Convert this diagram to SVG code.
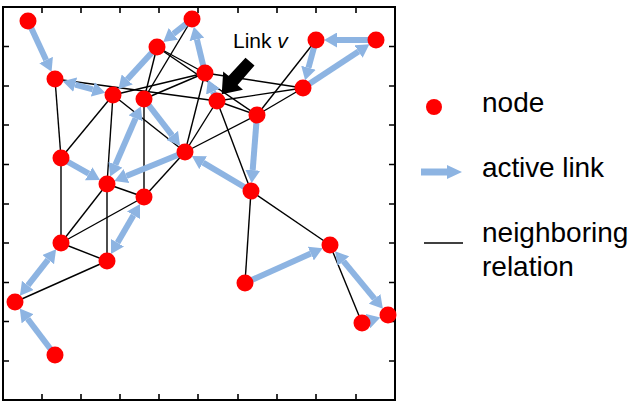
<svg xmlns="http://www.w3.org/2000/svg" width="634" height="416" viewBox="0 0 634 416">
<style>
.nb{stroke:#000;stroke-width:1.4;fill:none}
.al{stroke:#8DB4E2;stroke-width:6;fill:none;marker-end:url(#ah)}
.al2{stroke:#8DB4E2;stroke-width:6;fill:none;marker-end:url(#ah);marker-start:url(#ah)}
.nd{fill:#FF0000}
.tk{stroke:#000;stroke-width:1.6}
.lg{font-family:"Liberation Sans",Arial,sans-serif;font-size:28px;fill:#000}
</style>
<defs>
<marker id="ah" markerUnits="userSpaceOnUse" markerWidth="13" markerHeight="15" viewBox="0 0 13 15" refX="0" refY="7.5" orient="auto-start-reverse">
<path d="M0,0 L13,7.5 L0,15 z" fill="#8DB4E2"/>
</marker>
</defs>
<rect x="0" y="0" width="634" height="416" fill="#fff"/>
<g id="frame">
<rect x="3" y="7" width="392" height="393" fill="none" stroke="#000" stroke-width="2"/>
<path class="tk" d="M42,7v6M81,7v6M120,7v6M159,7v6M198,7v6M238,7v6M277,7v6M316,7v6M356,7v6
M42,400v-6M81,400v-6M120,400v-6M159,400v-6M198,400v-6M238,400v-6M277,400v-6M316,400v-6M356,400v-6
M3,46.5h6M3,86h6M3,125h6M3,164.5h6M3,204h6M3,243h6M3,282.5h6M3,321.5h6M3,361h6
M395,46.5h-6M395,86h-6M395,125h-6M395,164.5h-6M395,204h-6M395,243h-6M395,282.5h-6M395,321.5h-6M395,361h-6"/>
</g>
<g id="connectors">
<g id="neighbors" class="nb">
<line x1="55" y1="79" x2="217" y2="101"/>
<line x1="55" y1="79" x2="61" y2="158"/>
<line x1="61" y1="158" x2="61" y2="243"/>
<line x1="61" y1="158" x2="113" y2="95"/>
<line x1="113" y1="95" x2="107" y2="184"/>
<line x1="107" y1="184" x2="107" y2="261"/>
<line x1="107" y1="184" x2="61" y2="243"/>
<line x1="61" y1="243" x2="144" y2="197"/>
<line x1="61" y1="243" x2="107" y2="261"/>
<line x1="107" y1="184" x2="144" y2="197"/>
<line x1="144" y1="197" x2="144" y2="99"/>
<line x1="144" y1="197" x2="185" y2="152"/>
<line x1="15" y1="302" x2="107" y2="261"/>
<line x1="330" y1="245" x2="362" y2="323"/>
<line x1="251" y1="191" x2="330" y2="245"/>
<line x1="251" y1="191" x2="245" y2="283"/>
<line x1="217" y1="101" x2="251" y2="191"/>
<line x1="257" y1="115" x2="185" y2="152"/>
<line x1="217" y1="101" x2="257" y2="115"/>
<line x1="257" y1="115" x2="303" y2="88"/>
<line x1="257" y1="115" x2="316" y2="40"/>
<line x1="217" y1="101" x2="303" y2="88"/>
<line x1="192" y1="19" x2="144" y2="99"/>
<line x1="157" y1="47" x2="144" y2="99"/>
<line x1="157" y1="47" x2="205" y2="73"/>
<line x1="157" y1="47" x2="257" y2="115"/>
<line x1="113" y1="95" x2="205" y2="73"/>
<line x1="144" y1="99" x2="205" y2="73"/>
<line x1="113" y1="95" x2="185" y2="152"/>
<line x1="217" y1="101" x2="185" y2="152"/>
<line x1="205" y1="73" x2="185" y2="152"/>
<line x1="205" y1="73" x2="303" y2="88"/>
</g>
<g id="active-links">
<line class="al" x1="28" y1="21" x2="46.1" y2="60"/>
<line class="al2" x1="75.2" y1="84.6" x2="92.8" y2="89.4"/>
<line class="al" x1="157" y1="47" x2="127.2" y2="79.5"/>
<line class="al" x1="192" y1="19" x2="173.4" y2="33.9"/>
<line class="al" x1="205" y1="73" x2="196.9" y2="39.4"/>
<line class="al" x1="217" y1="101" x2="213" y2="91.6"/>
<line class="al2" x1="135.6" y1="118.3" x2="115.4" y2="164.7"/>
<line class="al" x1="144" y1="99" x2="172.1" y2="135.4"/>
<line class="al" x1="61" y1="158" x2="88.7" y2="173.7"/>
<line class="al" x1="185" y1="152" x2="126.4" y2="176"/>
<line class="al2" x1="133.5" y1="215.2" x2="117.5" y2="242.8"/>
<line class="al2" x1="48.1" y1="259.6" x2="27.9" y2="285.4"/>
<line class="al" x1="55" y1="355" x2="27.6" y2="318.8"/>
<line class="al" x1="376" y1="40" x2="337" y2="40"/>
<line class="al" x1="316" y1="40" x2="308.5" y2="67.7"/>
<line class="al" x1="303" y1="88" x2="358.5" y2="51.5"/>
<line class="al" x1="257" y1="115" x2="252.7" y2="170.1"/>
<line class="al" x1="251" y1="191" x2="203.1" y2="162.7"/>
<line class="al" x1="245" y1="283" x2="310.8" y2="253.6"/>
<line class="al2" x1="343.4" y1="261.2" x2="374.6" y2="298.8"/>
<line class="al" x1="362" y1="323" x2="367.9" y2="321.2"/>
</g>
</g>
<g id="nodes">
<g id="nA"><circle class="nd" cx="28" cy="21" r="8.5"/></g>
<g id="nB"><circle class="nd" cx="192" cy="19" r="8.5"/></g>
<g id="nC"><circle class="nd" cx="157" cy="47" r="8.5"/></g>
<g id="nD"><circle class="nd" cx="205" cy="73" r="8.5"/></g>
<g id="nE"><circle class="nd" cx="55" cy="79" r="8.5"/></g>
<g id="nF"><circle class="nd" cx="113" cy="95" r="8.5"/></g>
<g id="nG"><circle class="nd" cx="144" cy="99" r="8.5"/></g>
<g id="nH"><circle class="nd" cx="217" cy="101" r="8.5"/></g>
<g id="nI"><circle class="nd" cx="316" cy="40" r="8.5"/></g>
<g id="nJ"><circle class="nd" cx="376" cy="40" r="8.5"/></g>
<g id="nK"><circle class="nd" cx="303" cy="88" r="8.5"/></g>
<g id="nL"><circle class="nd" cx="257" cy="115" r="8.5"/></g>
<g id="nM"><circle class="nd" cx="185" cy="152" r="8.5"/></g>
<g id="nN"><circle class="nd" cx="61" cy="158" r="8.5"/></g>
<g id="nO"><circle class="nd" cx="107" cy="184" r="8.5"/></g>
<g id="nP"><circle class="nd" cx="144" cy="197" r="8.5"/></g>
<g id="nQ"><circle class="nd" cx="251" cy="191" r="8.5"/></g>
<g id="nR"><circle class="nd" cx="61" cy="243" r="8.5"/></g>
<g id="nS"><circle class="nd" cx="107" cy="261" r="8.5"/></g>
<g id="nT"><circle class="nd" cx="330" cy="245" r="8.5"/></g>
<g id="nU"><circle class="nd" cx="245" cy="283" r="8.5"/></g>
<g id="nV"><circle class="nd" cx="15" cy="302" r="8.5"/></g>
<g id="nW"><circle class="nd" cx="55" cy="355" r="8.5"/></g>
<g id="nX"><circle class="nd" cx="362" cy="323" r="8.5"/></g>
<g id="nY"><circle class="nd" cx="388" cy="315" r="8.5"/></g>
</g>
<g id="link-v">
<polygon points="221.7,94.3 223.2,71.4 228.6,76.1 245.5,57.8 254.5,65.6 237.6,85.1 243,89.8" fill="#000"/>
<text x="233" y="48" font-family="'Liberation Sans',Arial,sans-serif" font-size="21">Link <tspan font-style="italic">v</tspan></text>
</g>
<g id="legend">
<circle class="nd" cx="434" cy="107" r="8"/>
<text class="lg" x="482" y="112">node</text>
<line x1="421" y1="172" x2="448" y2="172" stroke="#8DB4E2" stroke-width="7"/>
<polygon points="447,165 462,172 447,179" fill="#8DB4E2"/>
<text class="lg" x="482" y="177" textLength="122" lengthAdjust="spacing">active link</text>
<line x1="424" y1="243" x2="463" y2="243" stroke="#000" stroke-width="1.5"/>
<text class="lg" x="482" y="242">neighboring</text>
<text class="lg" x="482" y="276">relation</text>
</g>
</svg>
